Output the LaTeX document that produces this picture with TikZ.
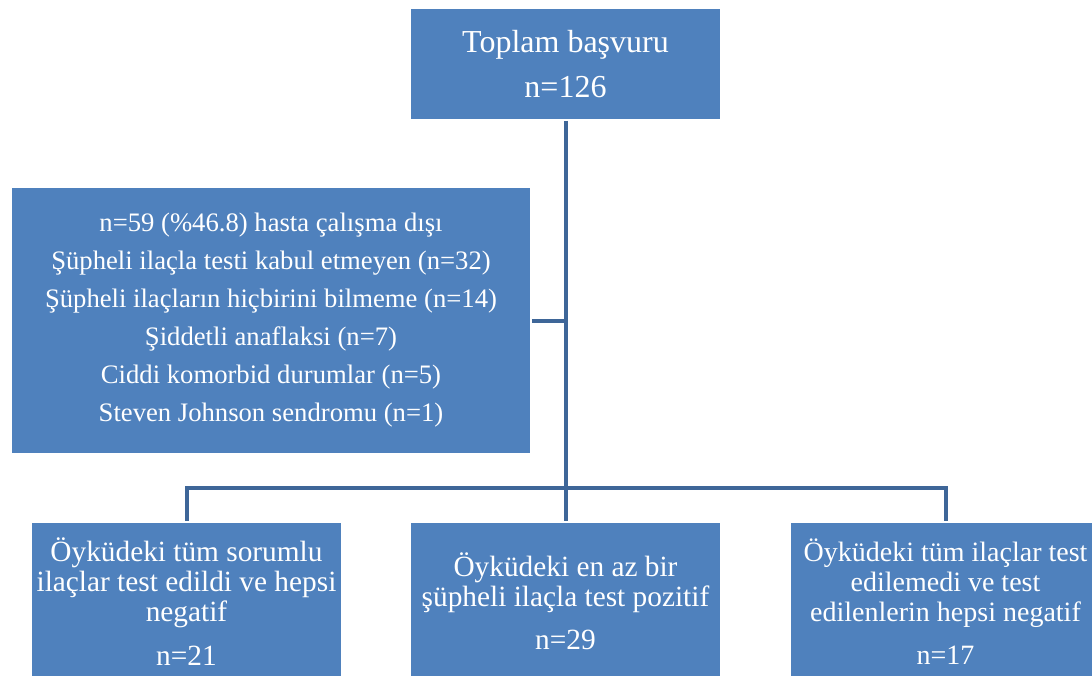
\documentclass[tikz,border=0pt]{standalone}
\usepackage{fontspec}
\setmainfont{Liberation Serif}
\definecolor{bluBlocco}{RGB}{79,129,189}
\definecolor{bluLinea}{RGB}{62,102,152}

\begin{document}
\begin{tikzpicture}[x=0.75pt, y=-0.75pt]
				% Stili per blocchi e collegamenti
				\tikzset{blocco/.style={rectangle, fill=bluBlocco, draw=black!30, double=white, double distance=1.9pt, line width=0.5pt, text=white, align=center, inner sep=2pt, minimum width=234pt},
					linea/.style={draw=bluLinea, line width=3pt}}
				
				\useasboundingbox (0,0) rectangle (1092,675);
				\clip (0,0) rectangle (1092,675);
				
				% Blocchi (posizionati a coordinate)
				\node[blocco, minimum height=84.75pt, font=\fontsize{24}{34}\selectfont] (totale) at (565.5,64) {Toplam başvuru\\n=126};
				\node[blocco, minimum width=390.75pt, minimum height=201pt, font=\fontsize{20}{28.5}\selectfont] (esclusi) at (271,320.5) {n=59 (\%46.8) hasta çalışma dışı\\Şüpheli ilaçla testi kabul etmeyen (n=32)\\Şüpheli ilaçların hiçbirini bilmeme (n=14)\\Şiddetli anaflaksi (n=7)\\Ciddi komorbid durumlar (n=5)\\Steven Johnson sendromu (n=1)};
				\node[blocco, minimum height=120pt, font=\fontsize{22}{22.5}\selectfont] (neg) at (186.5,601.5) {Öyküdeki tüm sorumlu\\ilaçlar test edildi ve hepsi\\negatif\\[10pt]n=21};
				\node[blocco, minimum height=120pt, font=\fontsize{22}{22.5}\selectfont] (pos) at (565.5,601.5) {Öyküdeki en az bir\\şüpheli ilaçla test pozitif\\[10pt]n=29};
				\node[blocco, minimum height=120pt, font=\fontsize{21}{22.5}\selectfont] (nontest) at (945.5,601.5) {Öyküdeki tüm ilaçlar test\\edilemedi ve test\\edilenlerin hepsi negatif\\[10pt]n=17};
				
				% Punto di diramazione
				\coordinate (ramo) at (565.5,488);
				
				% Collegamenti
				\draw[linea] (totale.south) -- (ramo);
				\draw[linea] (esclusi.east) -- (esclusi.east -| totale.south);
				\draw[linea] (ramo) -| (neg.north);
				\draw[linea] (ramo) -- (pos.north);
				\draw[linea] (ramo) -| (nontest.north);
			\end{tikzpicture}
\end{document}
